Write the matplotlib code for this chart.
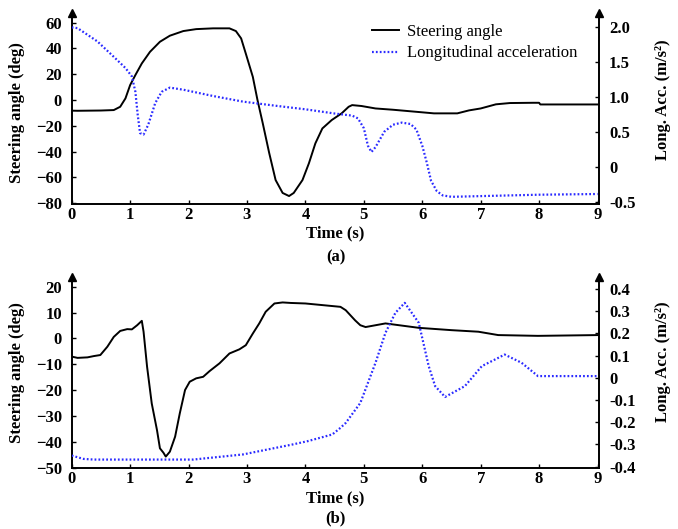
import matplotlib
matplotlib.use("Agg")
import matplotlib.pyplot as plt
from matplotlib.lines import Line2D

# ---------------- data ----------------
# Panel (a)
t_steer_a = [0.0, 0.10, 0.5, 0.72, 0.83, 0.92, 1.00, 1.09, 1.20, 1.34, 1.51, 1.68, 1.91, 2.13,
             2.42, 2.70, 2.81, 2.90, 2.98, 3.10, 3.18, 3.27, 3.38, 3.49, 3.61, 3.72, 3.80,
             3.95, 4.06, 4.17, 4.29, 4.45, 4.62, 4.74, 4.80, 4.96, 5.2, 5.5, 6.0, 6.2, 6.6,
             6.8, 7.0, 7.26, 7.5, 7.9, 8.0, 8.02, 9.0]
steer_a = [-8.2, -8.3, -8.1, -7.75, -5.2, 1.3, 11.6, 19.4, 28.4, 37.4, 45.2, 49.9, 53.5, 55.0,
           55.6, 55.6, 53.5, 47.8, 36.0, 18.0, 0.0, -18.0, -41.0, -62.0, -72.0, -74.4, -72.0,
           -62.0, -49.0, -33.6, -22.0, -15.5, -10.3, -5.2, -3.9, -4.6, -6.5, -7.5, -9.5, -10.3, -10.3,
           -8.0, -6.5, -3.3, -2.3, -2.1, -2.1, -3.4, -3.4]

t_acc_a = [0.0, 0.10, 0.44, 0.72, 0.92, 1.03, 1.09, 1.13, 1.17, 1.23, 1.31, 1.43, 1.54, 1.68,
           1.91, 2.42, 2.93, 3.5, 4.0, 4.5, 4.8, 4.9, 5.0, 5.07, 5.13, 5.2, 5.35, 5.5,
           5.65, 5.8, 5.9, 6.0, 6.08, 6.15, 6.25, 6.35, 6.5, 7.0, 8.0, 9.0]
acc_a = [1.99, 1.98, 1.79, 1.57, 1.41, 1.29, 1.07, 0.74, 0.48, 0.46, 0.60, 0.91, 1.07, 1.13,
         1.10, 1.01, 0.93, 0.87, 0.82, 0.76, 0.73, 0.69, 0.55, 0.30, 0.21, 0.28, 0.50, 0.60,
         0.63, 0.61, 0.53, 0.30, 0.05, -0.20, -0.35, -0.41, -0.43, -0.42, -0.40, -0.39]

# Panel (b)
t_steer_b = [0.0, 0.1, 0.27, 0.38, 0.49, 0.61, 0.72, 0.83, 0.95, 1.03, 1.12, 1.20, 1.23, 1.29,
             1.37, 1.46, 1.51, 1.57, 1.61, 1.68, 1.77, 1.85, 1.94, 2.02, 2.13, 2.25, 2.36,
             2.53, 2.70, 2.87, 2.98, 3.10, 3.21, 3.32, 3.47, 3.61, 3.75, 4.0, 4.6, 4.69, 4.85,
             4.94, 5.03, 5.37, 5.94, 6.5, 6.96, 7.3, 7.98, 9.0]
steer_b = [-7.0, -7.5, -7.3, -6.8, -6.4, -3.2, 0.6, 2.9, 3.6, 3.5, 5.1, 6.8, 2.6, -10.9,
           -25.1, -35.4, -42.4, -44.1, -45.6, -43.7, -37.9, -28.9, -19.9, -16.7, -15.4, -14.8, -12.6,
           -9.6, -5.8, -4.2, -2.6, 1.9, 5.8, 10.3, 13.5, 13.9, 13.7, 13.5, 12.2, 10.9, 7.0,
           5.1, 4.4, 5.8, 4.1, 3.2, 2.6, 1.3, 1.0, 1.3]

t_acc_b = [0.0, 0.2, 0.38, 2.08, 2.93, 3.78, 4.04, 4.46, 4.6, 4.69, 4.94, 5.2, 5.37, 5.54, 5.7,
           5.94, 6.11, 6.22, 6.39, 6.73, 7.02, 7.3, 7.41, 7.7, 7.98, 9.0]
acc_b = [-0.35, -0.365, -0.368, -0.368, -0.345, -0.300, -0.285, -0.255, -0.225, -0.203, -0.113,
         0.068, 0.203, 0.293, 0.338, 0.248, 0.053, -0.037, -0.086, -0.037, 0.053, 0.09, 0.105,
         0.068, 0.008, 0.008]

x_ticks = [0, 1, 2, 3, 4, 5, 6, 7, 8, 9]
yl_ticks_a = [-80, -60, -40, -20, 0, 20, 40, 60]
yr_ticks_a = [-0.5, 0, 0.5, 1.0, 1.5, 2.0]
yr_labels_a = ["-0.5", "0", "0.5", "1.0", "1.5", "2.0"]
yl_ticks_b = [-50, -40, -30, -20, -10, 0, 10, 20]
yr_ticks_b = [-0.4, -0.3, -0.2, -0.1, 0, 0.1, 0.2, 0.3, 0.4]
yr_labels_b = ["-0.4", "-0.3", "-0.2", "-0.1", "0", "0.1", "0.2", "0.3", "0.4"]

# ---------------- style ----------------
W, H = 678, 529
plt.rcParams['font.family'] = ['Liberation Serif', 'DejaVu Serif']
FS = 12
BLUE = '#2a2aff'
dots = (0, (0.8, 0.95))

fig = plt.figure(figsize=(W / 100, H / 100), dpi=100)


def px_rect(left, top, right, bottom):
    return [left / W, 1 - bottom / H, (right - left) / W, (bottom - top) / H]


def make_panel(rect, t1, y1, t2, y2, ylim1, ylim2, ylt, yrt, yrl, lab_y1, lab_y2):
    ax = fig.add_axes(rect)
    ax2 = ax.twinx()
    ax.plot(t1, y1, color='black', lw=1.4, solid_joinstyle='round')
    ax2.plot(t2, y2, color=BLUE, lw=1.6, linestyle=dots)
    ax.set_xlim(0.07, 9.03)
    ax.set_ylim(*ylim1)
    ax2.set_ylim(*ylim2)
    ax.set_xticks(x_ticks)
    ax.set_yticks(ylt)
    ax2.set_yticks(yrt)
    ax2.set_yticklabels(yrl)
    for a in (ax, ax2):
        for s in a.spines.values():
            s.set_linewidth(1.4)
        a.spines['top'].set_visible(False)
    ax.spines['right'].set_visible(False)
    ax2.spines['left'].set_visible(False)
    ax2.spines['bottom'].set_visible(False)
    ax.tick_params(axis='y', direction='in', length=3, width=1, pad=7, labelsize=FS)
    ax.tick_params(axis='x', direction='in', length=3, width=1, pad=2, labelsize=FS)
    ax2.tick_params(axis='y', direction='in', length=3, width=1, pad=7, labelsize=FS)
    for lab in ax.get_xticklabels() + ax.get_yticklabels() + ax2.get_yticklabels():
        lab.set_fontweight('bold')
    ax.set_ylabel("Steering angle (deg)", fontsize=FS, fontweight='bold')
    ax.yaxis.set_label_coords(-0.0885, lab_y1)
    ax2.set_ylabel("Long. Acc. (m/s²)", fontsize=FS, fontweight='bold')
    ax2.yaxis.set_label_coords(1.1056, lab_y2)
    # arrows on top of vertical axes
    ax.plot([0], [1], marker='^', ms=6, color='black', transform=ax.transAxes, clip_on=False)
    ax.plot([1], [1], marker='^', ms=6, color='black', transform=ax.transAxes, clip_on=False)
    return ax, ax2


axa, axa2 = make_panel(px_rect(71.7, 13, 599.3, 204.3), t_steer_a, steer_a, t_acc_a, acc_a,
                       (-80.8, 67.5), (-0.537, 2.196), yl_ticks_a, yr_ticks_a, yr_labels_a,
                       0.48, 0.545)
axb, axb2 = make_panel(px_rect(71.7, 277.3, 599.3, 468), t_steer_b, steer_b, t_acc_b, acc_b,
                       (-50, 23.6), (-0.406, 0.453), yl_ticks_b, yr_ticks_b, yr_labels_b,
                       0.5, 0.557)

handles = [Line2D([], [], color='black', lw=1.4),
           Line2D([], [], color=BLUE, lw=1.6, linestyle=dots)]
axa2.legend(handles, ["Steering angle", "Longitudinal acceleration"], loc='upper left',
            bbox_to_anchor=(0.569, 0.945), frameon=False, borderpad=0, borderaxespad=0,
            handlelength=1.6, handletextpad=0.5, labelspacing=0.35, fontsize=FS)

cx = 335.5 / W
fig.text(cx, 1 - 233 / H, "Time (s)", ha='center', va='center', fontsize=FS, fontweight='bold')
fig.text(cx, 1 - 257 / H, "(a)", ha='center', va='center', fontsize=FS, fontweight='bold')
fig.text(cx, 1 - 498 / H, "Time (s)", ha='center', va='center', fontsize=FS, fontweight='bold')
fig.text(cx, 1 - 518 / H, "(b)", ha='center', va='center', fontsize=FS, fontweight='bold')

fig.savefig("out.png", dpi=100)
